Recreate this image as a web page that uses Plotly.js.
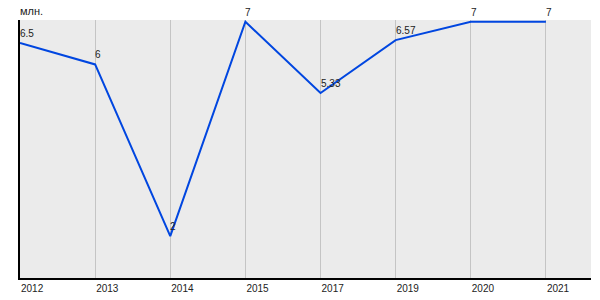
<!DOCTYPE html>
<html><head><meta charset="utf-8">
<script src="https://cdn.plot.ly/plotly-3.0.1.min.js"></script>
<style>html,body{margin:0;padding:0;background:#fff}</style>
</head><body>
<div id="chart" style="width:600px;height:300px"></div>
<script>
var years = ["2012","2013","2014","2015","2017","2019","2020","2021"];
var values = [6.5, 6, 1.98, 7, 5.33, 6.57, 7, 7];
var labels = ["6.5","6","2","7","5.33","6.57","7","7"];
var unit = "млн.";

var trace = {
  x: years, y: values, type: "scatter", mode: "lines",
  line: {color: "#0046e0", width: 2},
  cliponaxis: false, hoverinfo: "none"
};
var anns = years.map(function (yr, i) {
  return {x: i, y: values[i], xref: "x", yref: "y", text: labels[i], showarrow: false,
          xanchor: "left", yanchor: "bottom", xshift: -2, yshift: 2,
          font: {size: 10, color: "#222"}};
});
anns.push({
  text: unit, xref: "paper", yref: "paper", x: 0, y: 1, xanchor: "left", yanchor: "bottom",
  yshift: 1, xshift: -2, showarrow: false, font: {size: 11, color: "#222"}
});
var layout = {
  width: 600, height: 300,
  margin: {l: 20, r: 9, t: 20, b: 22},
  paper_bgcolor: "#ffffff", plot_bgcolor: "#ebebeb",
  showlegend: false,
  font: {family: "Liberation Sans, Arial, sans-serif", size: 10, color: "#222"},
  xaxis: {
    type: "category", range: [0, 7.6], showgrid: true, gridcolor: "#c4c4c4", gridwidth: 1,
    showline: true, linecolor: "#000", linewidth: 2, ticks: "", zeroline: false,
    ticklabelposition: "outside right", tickfont: {size: 10, color: "#222"}, fixedrange: true
  },
  yaxis: {
    range: [1, 7.04], showgrid: false, showticklabels: false, ticks: "", zeroline: false,
    showline: true, linecolor: "#000", linewidth: 2, fixedrange: true
  },
  annotations: anns
};
Plotly.newPlot("chart", [trace], layout, {displayModeBar: false, staticPlot: true});
</script>
</body></html>
